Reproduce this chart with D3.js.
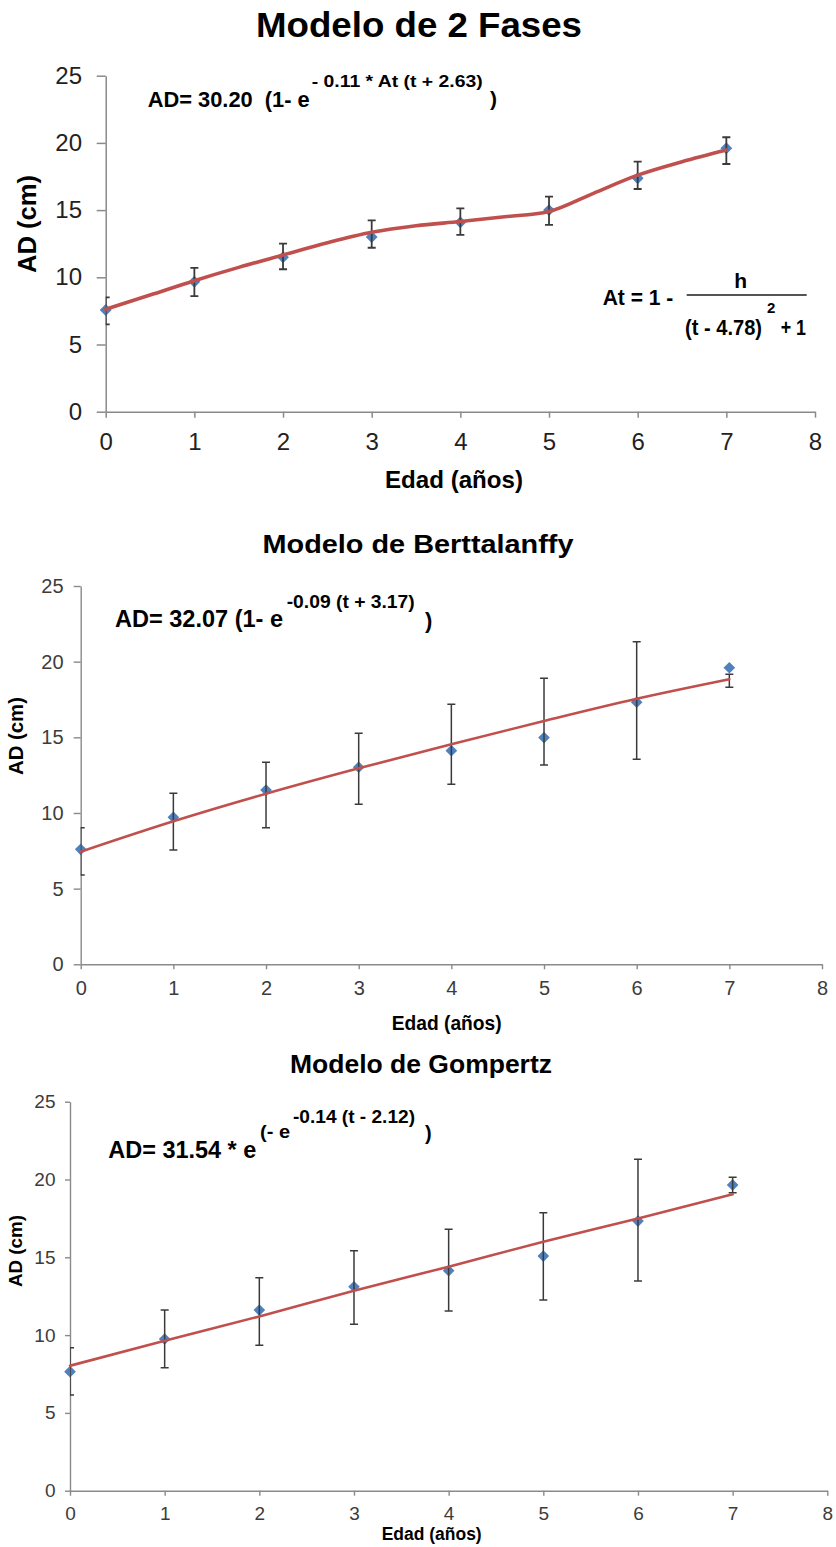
<!DOCTYPE html>
<html>
<head>
<meta charset="utf-8">
<script src="https://cdn.jsdelivr.net/npm/d3@7/dist/d3.min.js"></script>
<style>
  html, body { margin: 0; padding: 0; background: #fff; }
  svg { display: block; }
  text { font-family: "Liberation Sans", Arial, Helvetica, sans-serif; white-space: pre; }
</style>
</head>
<body>
<svg id="chart" width="836" height="1547"></svg>
<script>
// ---------------- DATA ----------------
const ages = [0, 1, 2, 3, 4, 5, 6, 7];
const xTicks = [0, 1, 2, 3, 4, 5, 6, 7, 8];
const yTicks = [0, 5, 10, 15, 20, 25];

// Modelo de 2 Fases
const fasesMean  = [7.57, 9.67, 11.49, 13.0, 14.09, 15.0, 17.37, 19.6];
const fasesUpper = [8.5, 10.7, 12.5, 14.24, 15.13, 16.0, 18.6, 20.42];
const fasesLower = [6.5, 8.6, 10.6, 12.2, 13.15, 13.9, 16.57, 18.43];
const fasesFitT  = [0, 0.5, 1, 1.5, 2, 2.5, 3, 3.5, 4, 4.5, 5, 5.5, 6, 6.5, 7];
const fasesFit   = [7.62, 8.68, 9.75, 10.74, 11.66, 12.57, 13.35, 13.84, 14.15, 14.5, 14.9, 16.25, 17.6, 18.6, 19.47];

// Modelo de Berttalanffy
const bertMean  = [7.6, 9.71, 11.52, 13.02, 14.12, 14.98, 17.32, 19.6];
const bertUpper = [9.03, 11.3, 13.35, 15.27, 17.18, 18.9, 21.32, 19.17];
const bertLower = [5.9, 7.55, 9.03, 10.57, 11.9, 13.17, 13.55, 18.31];
const bertFit   = [7.44, 9.45, 11.27, 12.95, 14.54, 16.08, 17.55, 18.84];

// Modelo de Gompertz
const gompMean  = [7.65, 9.75, 11.61, 13.11, 14.14, 15.08, 17.33, 19.65];
const gompUpper = [9.19, 11.61, 13.69, 15.42, 16.8, 17.87, 21.3, 20.14];
const gompLower = [6.15, 7.9, 9.34, 10.69, 11.55, 12.26, 13.48, 19.15];
const gompFit   = [8.03, 9.64, 11.2, 12.85, 14.4, 16.0, 17.5, 19.05];

// ---------------- DRAW ----------------
const svg = d3.select("#chart");
const BLUE = "#4f81bd", RED = "#c0504d", AXIS = "#8a8a8a", BAR = "#3a3a3a";

function txt(parent, s, x, y, opt) {
  const t = parent.append("text").attr("x", x).attr("y", y).text(s)
    .attr("font-size", opt.size).attr("font-weight", opt.bold ? "bold" : "normal")
    .attr("fill", opt.fill || "#000").attr("text-anchor", opt.anchor || "start");
  if (opt.width) t.attr("textLength", opt.width).attr("lengthAdjust", "spacingAndGlyphs");
  return t;
}

function panel(o) {
  const x = d3.scaleLinear().domain([0, 8]).range([o.x0, o.x1]);
  const y = d3.scaleLinear().domain([0, 25]).range([o.y0, o.y1]);
  const g = svg.append("g");
  const id = "clip" + o.key;
  svg.append("clipPath").attr("id", id).append("rect")
    .attr("x", o.x0).attr("y", o.y1 - 20).attr("width", o.x1 - o.x0 + 10).attr("height", o.y0 - o.y1 + 40);

  // axes
  const ya = d3.axisLeft(y).tickValues(yTicks).tickSize(o.tickY).tickSizeOuter(0).tickFormat(d3.format("d"));
  const gy = g.append("g").attr("transform", `translate(${o.x0},0)`).call(ya);
  gy.selectAll("text").attr("x", o.yLabEnd - o.x0).attr("font-size", o.tickFont)
    .attr("fill", o.tickColor);
  const xa = d3.axisBottom(x).tickValues(xTicks).tickSize(o.tickX).tickSizeOuter(0).tickFormat(d3.format("d"));
  const gx = g.append("g").attr("transform", `translate(0,${o.y0})`).call(xa);
  gx.selectAll("text").attr("y", o.xLabBase - o.y0).attr("dy", 0).attr("font-size", o.tickFont)
    .attr("fill", o.tickColor);
  [gx, gy].forEach(a => {
    a.attr("font-family", null).attr("font-size", null);
    a.select(".domain").attr("stroke", AXIS).attr("stroke-width", o.axisW);
    a.selectAll(".tick line").attr("stroke", AXIS).attr("stroke-width", o.axisW);
  });

  // markers
  const sym = d3.symbol().type(d3.symbolSquare).size(o.markSize);
  g.append("g").selectAll("path").data(ages).join("path")
    .attr("d", sym)
    .attr("transform", (d, i) => `translate(${x(d)},${y(o.mean[i])}) rotate(45)`)
    .attr("fill", BLUE);

  // error bars
  const eb = g.append("g").attr("clip-path", `url(#${id})`)
    .attr("stroke", BAR).attr("stroke-width", o.barW).attr("fill", "none");
  ages.forEach((d, i) => {
    const cx = x(d), yt = y(o.upper[i]), yb = y(o.lower[i]);
    eb.append("line").attr("x1", cx).attr("x2", cx).attr("y1", yt).attr("y2", yb);
    eb.append("line").attr("x1", cx - o.cap).attr("x2", cx + o.cap).attr("y1", yt).attr("y2", yt);
    eb.append("line").attr("x1", cx - o.cap).attr("x2", cx + o.cap).attr("y1", yb).attr("y2", yb);
  });

  // fitted curve
  const line = d3.line().x(d => x(d[0])).y(d => y(d[1])).curve(d3.curveMonotoneX);
  g.append("path").datum(o.fitT.map((t, i) => [t, o.fit[i]]))
    .attr("d", line).attr("fill", "none").attr("stroke", RED)
    .attr("stroke-width", o.lineW).attr("stroke-linecap", "round");

  // titles
  txt(svg, o.title, o.titleX, o.titleY, { size: o.titleSize, bold: true, anchor: "middle", width: o.titleW });
  txt(svg, "Edad (años)", o.xtX, o.xtY, { size: o.xtSize, bold: true, anchor: "middle", width: o.xtW });
  svg.append("text").attr("transform", `translate(${o.ytX},${o.ytY}) rotate(-90)`)
    .attr("text-anchor", "middle").attr("font-weight", "bold").attr("font-size", o.ytSize)
    .attr("textLength", o.ytW).attr("lengthAdjust", "spacingAndGlyphs")
    .text("AD (cm)");
}

panel({
  key: 1, x0: 105.7, x1: 815, y0: 411.7, y1: 75.7,
  tickY: 9, tickX: 6, yLabEnd: 82, xLabBase: 450, tickFont: 24, tickColor: "#222",
  axisW: 1.5, markSize: 70, barW: 1.8, cap: 4, lineW: 3.6,
  mean: fasesMean, upper: fasesUpper, lower: fasesLower, fitT: fasesFitT, fit: fasesFit,
  title: "Modelo de 2 Fases", titleX: 419, titleY: 37, titleSize: 35, titleW: 326,
  xtX: 454, xtY: 488, xtSize: 24, xtW: 138,
  ytX: 36, ytY: 224, ytSize: 25, ytW: 98
});

panel({
  key: 2, x0: 80.7, x1: 822, y0: 964.3, y1: 586,
  tickY: 7, tickX: 5, yLabEnd: 63.5, xLabBase: 995, tickFont: 20, tickColor: "#3c3c3c",
  axisW: 1.4, markSize: 68, barW: 1.5, cap: 4, lineW: 2.6,
  mean: bertMean, upper: bertUpper, lower: bertLower, fitT: ages, fit: bertFit,
  title: "Modelo de Berttalanffy", titleX: 418, titleY: 553, titleSize: 26, titleW: 311,
  xtX: 446.7, xtY: 1030, xtSize: 19.5, xtW: 110,
  ytX: 23, ytY: 736, ytSize: 19.5, ytW: 78
});

panel({
  key: 3, x0: 70, x1: 827.3, y0: 1490.7, y1: 1101.7,
  tickY: 5, tickX: 5, yLabEnd: 55.5, xLabBase: 1520, tickFont: 19, tickColor: "#3c3c3c",
  axisW: 1.4, markSize: 68, barW: 1.5, cap: 4, lineW: 2.6,
  mean: gompMean, upper: gompUpper, lower: gompLower, fitT: ages, fit: gompFit,
  title: "Modelo de Gompertz", titleX: 421, titleY: 1073, titleSize: 25, titleW: 262,
  xtX: 431.7, xtY: 1540, xtSize: 17.5, xtW: 100,
  ytX: 21.5, ytY: 1251, ytSize: 18.5, ytW: 72
});

// ---------------- EQUATIONS ----------------
const eq = svg.append("g");
// panel 1
txt(eq, "AD= 30.20  (1- e", 147.7, 106.7, { size: 22, bold: true, width: 162 });
txt(eq, "- 0.11 * At (t + 2.63)", 311.7, 86.7, { size: 17, bold: true, width: 171 });
txt(eq, ")", 490, 106, { size: 21, bold: true });
txt(eq, "At = 1 -", 602.7, 305, { size: 22, bold: true, width: 70.6 });
txt(eq, "h", 740.7, 288.3, { size: 21, bold: true, anchor: "middle" });
eq.append("line").attr("x1", 686.7).attr("x2", 806.7).attr("y1", 295).attr("y2", 295)
  .attr("stroke", "#555").attr("stroke-width", 2);
txt(eq, "(t - 4.78)", 685, 335, { size: 22, bold: true, width: 77 });
txt(eq, "2", 767, 313, { size: 15, bold: true });
txt(eq, "+ 1", 780.7, 335, { size: 22, bold: true, width: 25.3 });
// panel 2
txt(eq, "AD= 32.07 (1- e", 115, 626.7, { size: 24, bold: true, width: 168 });
txt(eq, "-0.09 (t + 3.17)", 286.7, 608.3, { size: 19, bold: true, width: 128 });
txt(eq, ")", 425, 628, { size: 22, bold: true });
// panel 3
txt(eq, "AD= 31.54 * e", 108.3, 1158.3, { size: 24, bold: true, width: 148 });
txt(eq, "(- e", 260, 1138.3, { size: 19, bold: true, width: 30 });
txt(eq, "-0.14 (t - 2.12)", 293, 1123.3, { size: 19, bold: true, width: 122 });
txt(eq, ")", 425, 1140, { size: 20, bold: true });
</script>
</body>
</html>
